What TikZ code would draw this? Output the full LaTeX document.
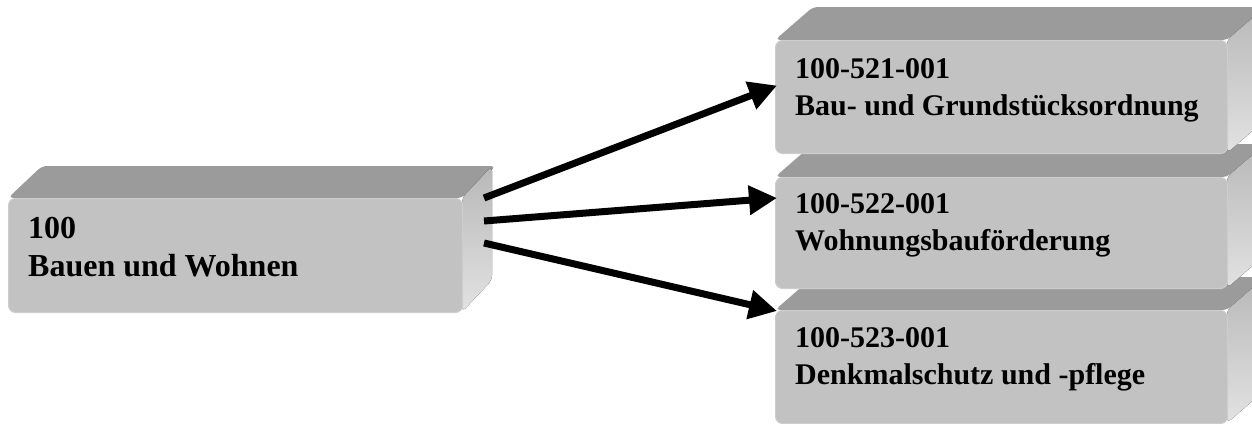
\documentclass[tikz,border=0pt]{standalone}
\usepackage{fontspec}
\setmainfont{Liberation Serif}
\usetikzlibrary{arrows.meta}
\definecolor{frontgray}{HTML}{C2C2C2}
\definecolor{topgray}{HTML}{9B9B9B}
\definecolor{sidetop}{HTML}{B8B8B8}
\definecolor{sidemid}{HTML}{ECECEC}
\definecolor{sidebot}{HTML}{E2E2E2}
\definecolor{edgegray}{HTML}{CDCDCD}
\tikzset{
  frontface/.style={fill=frontgray, draw=edgegray, line width=1pt, rounded corners=7pt, inner sep=0pt, anchor=north west},
  topface/.style={fill=topgray, rounded corners=5pt},
  sideface/.style={top color=sidetop, middle color=sidemid, bottom color=sidebot, rounded corners=5pt},
  boxtext/.style={inner sep=0pt, anchor=base west},
  bigfont/.style={font=\bfseries\fontsize{32}{38}\selectfont},
  smallfont/.style={font=\bfseries\fontsize{30}{37}\selectfont},
  flow/.style={line width=7pt, -{Triangle[length=28pt,width=28pt]}}
}
\begin{document}
\begin{tikzpicture}[x=1pt,y=-1pt]
\useasboundingbox (0,0) rectangle (1252,423);
\coordinate (c0) at (8,198);
\coordinate (c1) at (775,40);
\coordinate (c2) at (775,177);
\coordinate (c3) at (775,310);
\begin{scope}
\clip (0,0) rectangle (1252,423);
% box 3 (back)
\fill[topface] (c3) -- ++(38,-33) -- ++(452,0) -- ++(-38,33) -- cycle;
\fill[sideface] ([xshift=452pt]c3) -- ++(38,-33) -- ++(0,113) -- ++(-38,33) -- cycle;
\node[frontface, minimum width=452pt, minimum height=113pt] (b3) at (c3) {};
% box 2
\fill[topface] (c2) -- ++(38,-33) -- ++(452,0) -- ++(-38,33) -- cycle;
\fill[sideface] ([xshift=452pt]c2) -- ++(38,-33) -- ++(0,111) -- ++(-38,33) -- cycle;
\node[frontface, minimum width=452pt, minimum height=111pt] (b2) at (c2) {};
% box 1
\fill[topface] (c1) -- ++(38,-33) -- ++(452,0) -- ++(-38,33) -- cycle;
\fill[sideface] ([xshift=452pt]c1) -- ++(38,-33) -- ++(0,113) -- ++(-38,33) -- cycle;
\node[frontface, minimum width=452pt, minimum height=113pt] (b1) at (c1) {};
% box 0 (left)
\fill[topface] (c0) -- ++(34,-32) -- ++(454,0) -- ++(-34,32) -- cycle;
\fill[sideface] ([xshift=454pt]c0) -- ++(30,-32) -- ++(0,114) -- ++(-30,32) -- cycle;
\node[frontface, minimum width=454pt, minimum height=114pt] (b0) at (c0) {};
\end{scope}
% texts
\node[boxtext, bigfont] (t0) at ([xshift=20pt,yshift=-40pt]b0.north west)
  {\begin{tabular}[t]{@{}l@{}}100\\Bauen und Wohnen\end{tabular}};
\node[boxtext, smallfont] (t1) at ([xshift=20pt,yshift=-38pt]b1.north west)
  {\begin{tabular}[t]{@{}l@{}}100-521-001\\Bau- und Grundstücksordnung\end{tabular}};
\node[boxtext, smallfont] (t2) at ([xshift=20pt,yshift=-36pt]b2.north west)
  {\begin{tabular}[t]{@{}l@{}}100-522-001\\Wohnungsbauförderung\end{tabular}};
\node[boxtext, smallfont] (t3) at ([xshift=20pt,yshift=-37pt]b3.north west)
  {\begin{tabular}[t]{@{}l@{}}100-523-001\\Denkmalschutz und -pflege\end{tabular}};
% connectors
\coordinate (s1) at ([xshift=21pt]b0.north east);
\coordinate (s2) at ([xshift=21pt,yshift=-23pt]b0.north east);
\coordinate (s3) at ([xshift=21pt,yshift=-45pt]b0.north east);
\coordinate (e1) at ([xshift=2pt,yshift=11.5pt]b1.west);
\coordinate (e2) at ([xshift=2pt,yshift=-21pt]b2.north west);
\coordinate (e3) at ([xshift=2pt,yshift=-1pt]b3.north west);
\draw[flow] (s1) -- (e1);
\draw[flow] (s2) -- (e2);
\draw[flow] (s3) -- (e3);
\end{tikzpicture}
\end{document}
